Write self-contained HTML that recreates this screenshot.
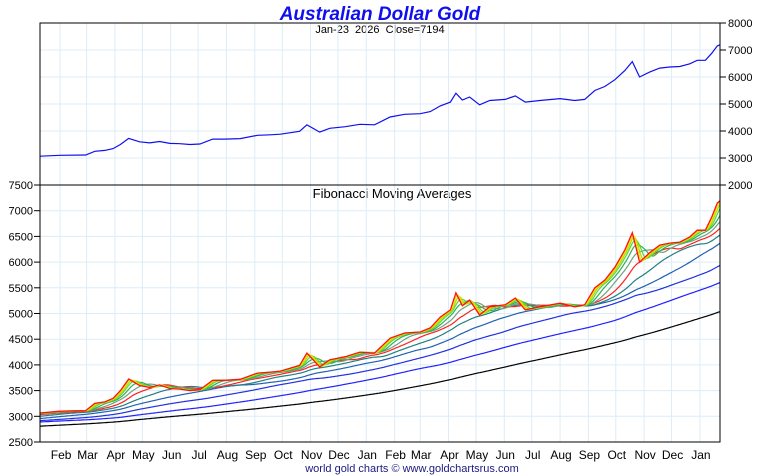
<!DOCTYPE html>
<html><head><meta charset="utf-8"><style>
body{margin:0;background:#fff;}
svg{display:block;font-family:"Liberation Sans",sans-serif;}
</style></head><body>
<svg id="c" width="760" height="475" xmlns="http://www.w3.org/2000/svg">
<text x="380" y="20" text-anchor="middle" font-size="19" font-weight="bold" font-style="italic" fill="#1010ee">Australian Dollar Gold</text>
<text x="380" y="33" text-anchor="middle" font-size="11" fill="#000" style="white-space:pre">Jan-23&#160; 2026&#160; Close=7194</text>
<text x="392" y="198" text-anchor="middle" font-size="13" fill="#000">Fibonacci Moving Averages</text>
<text x="412" y="472" text-anchor="middle" font-size="11" fill="#1a1a80">world gold charts © www.goldchartsrus.com</text>
<g id="grid"></g>
<g id="marks"></g>
<g id="axes"></g>
</svg>
<script>
// calendar day index (0 = Jan 1 2024) and AUD gold price
const dayIndex = [-530,-450,-360,-300,-240,-180,-120,-60,-20,9,31,59,69,80,89,97,106,118,129,140,151,162,173,184,198,211,228,247,261,272,293,301,315,326,343,359,375,392,408,425,436,447,458,464,471,479,490,501,518,529,540,556,578,594,605,616,627,638,649,657,665,676,687,698,709,720,728,737,744,750,753];
const price = [2600,2650,2720,2820,2880,2850,2850,2930,3030,3065,3100,3110,3250,3280,3350,3500,3725,3600,3560,3610,3540,3530,3500,3520,3700,3700,3720,3840,3860,3880,3990,4230,3960,4100,4160,4250,4230,4520,4620,4640,4720,4930,5070,5400,5150,5260,4970,5130,5170,5300,5070,5130,5200,5130,5170,5500,5650,5900,6240,6570,6000,6180,6330,6370,6390,6490,6620,6620,6880,7150,7194];
const maPeriods = [3,5,8,13,21,34,55,89,144,233,377];
const maColors = ["#e8e000","#b0e000","#60d040","#30b050","#70a080","#ff2020","#208080","#2060b0","#2030e0","#2020ff","#000000"];
const monthLabels = ["Feb","Mar","Apr","May","Jun","Jul","Aug","Sep","Oct","Nov","Dec","Jan","Feb","Mar","Apr","May","Jun","Jul","Aug","Sep","Oct","Nov","Dec","Jan"];
const monthDays = [31,60,91,121,152,182,213,244,274,305,335,366,397,425,456,486,517,547,578,609,639,670,700,731];
const topTicks = [2000,3000,4000,5000,6000,7000,8000];
const botTicks = [2500,3000,3500,4000,4500,5000,5500,6000,6500,7000,7500];

const NS="http://www.w3.org/2000/svg";
const X0=40,X1=720,D0=9,D1=753;
const xs=d=>X0+(d-D0)*(X1-X0)/(D1-D0);
const yTop=v=>185-(v-2000)*162/6000;
const yBot=v=>442-(v-2500)*257/5000;
function el(tag,attrs,parent){const e=document.createElementNS(NS,tag);for(const k in attrs)e.setAttribute(k,attrs[k]);parent.appendChild(e);return e;}
const grid=document.getElementById('grid'),marks=document.getElementById('marks'),axes=document.getElementById('axes');

topTicks.forEach(v=>{const l=el('line',{x1:X0,x2:X1,y1:yTop(v),y2:yTop(v),stroke:'#dcecf8'},grid);

});
botTicks.forEach(v=>{const l=el('line',{x1:X0,x2:X1,y1:yBot(v),y2:yBot(v),stroke:'#dcecf8'},grid);

});
monthDays.forEach((d,i)=>{const x=xs(d);
const l=el('line',{x1:x,x2:x,y1:23,y2:442,stroke:'#dcecf8'},grid);


const t=el('text',{x:x+1,y:459,'text-anchor':'middle','font-size':12,fill:'#000'},axes);t.textContent=monthLabels[i];

});

const daily={};
for(let i=0;i<dayIndex.length-1;i++){for(let d=dayIndex[i];d<dayIndex[i+1];d++){const f=(d-dayIndex[i])/(dayIndex[i+1]-dayIndex[i]);daily[d]=price[i]+f*(price[i+1]-price[i]);}}
daily[dayIndex[dayIndex.length-1]]=price[price.length-1];
const firstDay=dayIndex[0];
function ma(d,w){let s=0,n=0;for(let k=d-w+1;k<=d;k++){if(k>=firstDay){s+=daily[k];n++;}}return s/n;}

for(let j=maPeriods.length-1;j>=0;j--){const w=Math.round(maPeriods[j]*1.42);let p='';
for(let d=D0;d<=D1;d++){p+=(d===D0?'M':'L')+xs(d).toFixed(1)+','+yBot(ma(d,w)).toFixed(1);}
const e=el('path',{d:p,fill:'none',stroke:maColors[j],'stroke-width':1.2},marks);

}
let pb='',pt='';
dayIndex.forEach((d,i)=>{if(d<D0)return;const c=pb?'L':'M';pb+=c+xs(d).toFixed(1)+','+yBot(price[i]).toFixed(1);pt+=c+xs(d).toFixed(1)+','+yTop(price[i]).toFixed(1);});
let e1=el('path',{d:pb,fill:'none',stroke:'#ff1010','stroke-width':1.3},marks);


let e2=el('path',{d:pt,fill:'none',stroke:'#1010ee','stroke-width':1.2},marks);



let f=el('rect',{x:X0,y:23,width:X1-X0,height:419,fill:'none',stroke:'#000'},axes);


let s=el('line',{x1:X0-6,x2:X1+6,y1:185,y2:185,stroke:'#000'},axes);


topTicks.forEach(v=>{const y=yTop(v);el('line',{x1:X1,x2:X1+6,y1:y,y2:y,stroke:'#000'},axes);
const t=el('text',{x:X1+8,y:y+4,'font-size':11,fill:'#000'},axes);t.textContent=v;

});
botTicks.forEach(v=>{const y=yBot(v);el('line',{x1:X0-6,x2:X0,y1:y,y2:y,stroke:'#000'},axes);
const t=el('text',{x:X0-7,y:y+4,'text-anchor':'end','font-size':11,fill:'#000'},axes);t.textContent=v;

});
</script>
</body></html>
